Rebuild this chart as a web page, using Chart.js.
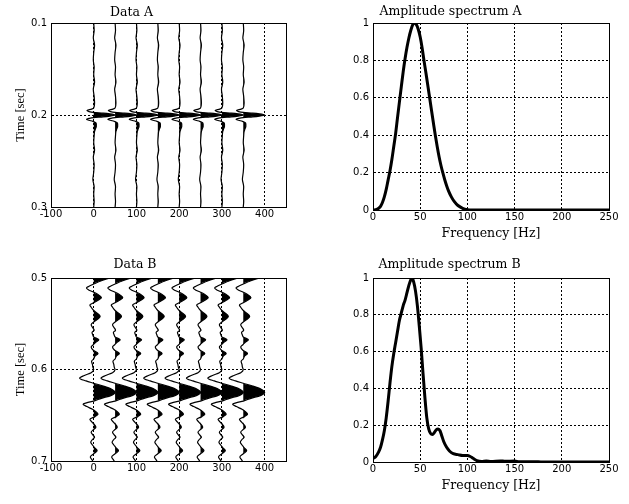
<!DOCTYPE html>
<html>
<head>
<meta charset="utf-8">
<script src="https://cdn.jsdelivr.net/npm/chart.js@4.4.1/dist/chart.umd.min.js"></script>
<style>
html, body { margin:0; padding:0; background:#ffffff; width:629px; height:504px; overflow:hidden; position:relative; }
canvas { position:absolute; }
</style>
</head>
<body>
<canvas id="dataA"></canvas>
<canvas id="specA"></canvas>
<canvas id="dataB"></canvas>
<canvas id="specB"></canvas>
<script>
// ---------------- data ----------------
const traceOffsets = [0, 50, 100, 150, 200, 250, 300, 350];

// Data A: one trace shape (time in s, amplitude in offset units)
const timeA = [0.100, 0.108, 0.116, 0.124, 0.132, 0.140, 0.148, 0.156, 0.164, 0.172,
               0.180, 0.187, 0.1923, 0.1936, 0.1952, 0.1963, 0.1972, 0.1980, 0.1988, 0.1995,
               0.2000, 0.2005, 0.2012, 0.2020, 0.2028, 0.2037, 0.2047, 0.2057, 0.2069, 0.2082,
               0.2097, 0.2124, 0.2151, 0.2179, 0.2224, 0.230, 0.238, 0.246, 0.254, 0.262,
               0.270, 0.278, 0.286, 0.294, 0.300];
const ampA  = [0, 1, -1, 2, 0, -1, 1, 0, 2, -1,
               1, 2, 0, -5, -16, -11, 0, 22, 38, 47,
               50, 47, 38, 22, 0, -11, -17, -11, -2, 4,
               6, 6, 4, 2, 1, 0, 2, -1, 1, 0,
               -2, 1, 0, 1, 0];

// Data B: one trace shape
const timeB = [0.500, 0.503, 0.5066, 0.509, 0.511, 0.513, 0.5155, 0.518, 0.5215, 0.5245,
               0.527, 0.5295, 0.532, 0.5355, 0.5385, 0.542, 0.5455, 0.548, 0.551, 0.5545,
               0.557, 0.5595, 0.5625, 0.5645, 0.5675, 0.5705, 0.5725, 0.5755, 0.579, 0.5825,
               0.5855, 0.5885, 0.591, 0.5945, 0.5975, 0.600, 0.6035, 0.6065, 0.6095, 0.6125,
               0.615, 0.618, 0.6215, 0.625, 0.6285, 0.6315, 0.6345, 0.6365, 0.638, 0.6405,
               0.6435, 0.646, 0.6488, 0.6515, 0.6545, 0.6575, 0.6605, 0.663, 0.6655, 0.6685,
               0.6715, 0.674, 0.6765, 0.6795, 0.6825, 0.6855, 0.6888, 0.692, 0.6955, 0.698,
               0.700];
const ampB  = [37, 18, 0, -11, -17, -12, 0, 10, 18, 9,
               0, -9, -6, 0, 8, 15, 8, 0, -6, -2,
               1, -4, -2, 0, 12, 4, 0, -6, -1, 10,
               3, 0, -5, -3, -2, 0, -6, -22, -33, -18,
               0, 22, 42, 50, 40, 18, 0, -17, -25, -16,
               -3, 5, 10, 3, -9, -4, 2, 5, 0, -6,
               -2, 2, -3, -7, -3, 2, 8, 0, -8, -5,
               -2];

// Amplitude spectrum A
const freqA = [0, 4, 8, 10, 12, 14, 16, 18, 20, 22, 24, 26, 28, 30, 32, 34, 36, 38, 40, 42,
               44, 46, 48, 50, 52, 54, 56, 58, 60, 62, 64, 66, 68, 70, 72, 74, 76, 78, 80, 83,
               86, 90, 95, 100, 105, 250];
const specA = [0, 0.003, 0.02, 0.04, 0.07, 0.11, 0.16, 0.21, 0.27, 0.34, 0.41, 0.495, 0.578, 0.66, 0.74, 0.81, 0.87, 0.92, 0.96, 0.99,
               1.0, 0.99, 0.965, 0.925, 0.868, 0.80, 0.735, 0.668, 0.60, 0.532, 0.465, 0.40, 0.34, 0.285, 0.238, 0.198, 0.162, 0.13, 0.102, 0.07,
               0.046, 0.024, 0.009, 0.002, 0, 0];

// Amplitude spectrum B
const freqB = [0, 3, 6, 8, 10, 12, 14, 16, 18, 20, 22, 24, 26, 28, 30, 32, 34, 36, 38, 40,
               41.5, 43, 45, 47, 49, 51, 53, 55, 57, 59, 61, 63, 65, 67, 69, 71, 73, 75, 78, 81,
               85, 90, 95, 100, 103, 106, 110, 115, 120, 125, 135, 140, 150, 155, 170, 180, 250];
const specB = [0.02, 0.03, 0.055, 0.08, 0.12, 0.17, 0.24, 0.33, 0.43, 0.52, 0.59, 0.65, 0.71, 0.77, 0.81, 0.85, 0.88, 0.92, 0.96, 0.99,
               1.0, 0.98, 0.93, 0.85, 0.74, 0.62, 0.48, 0.35, 0.24, 0.18, 0.155, 0.15, 0.16, 0.175, 0.18, 0.17, 0.14, 0.11, 0.08, 0.06,
               0.045, 0.04, 0.035, 0.035, 0.03, 0.02, 0.008, 0.003, 0.005, 0.003, 0.006, 0.004, 0.005, 0.002, 0.002, 0, 0];

// tick values
const xTicksData = [-100, 0, 100, 200, 300, 400];
const yTicksA = [0.1, 0.2, 0.3];
const yTicksB = [0.5, 0.6, 0.7];
const xTicksSpec = [0, 50, 100, 150, 200, 250];
const yTicksSpec = [0, 0.2, 0.4, 0.6, 0.8, 1];

// ---------------- styling helpers ----------------
const FONT_TICK = {family: 'DejaVu Sans', size: 10};
const FONT_TITLE = {family: 'DejaVu Serif', size: 12.5, weight: 'normal'};
const FONT_YLABEL = {family: 'Liberation Serif', size: 12.5, weight: 'normal'};

const framePlugin = {
  id: 'frame',
  afterDatasetsDraw(chart) {
    const {ctx, chartArea: a} = chart;
    const l = Math.round(a.left - 0.5) + 0.5, t = Math.round(a.top - 0.5) + 0.5;
    const r = Math.round(a.right - 0.5) + 0.5, b = Math.round(a.bottom - 0.5) + 0.5;
    ctx.save();
    ctx.strokeStyle = '#000';
    ctx.lineWidth = 1;
    ctx.setLineDash([]);
    ctx.strokeRect(l, t, r - l, b - t);
    ctx.restore();
  }
};

function linAxis(o) {
  return {
    type: 'linear', min: o.min, max: o.max, reverse: !!o.reverse,
    afterBuildTicks: s => { s.ticks = o.ticks.map(v => ({value: v})); },
    afterFit: s => {
      if (o.horizontal) { s.height = o.size; s.paddingLeft = 0; s.paddingRight = 0; }
      else { s.width = o.size; s.paddingTop = 0; s.paddingBottom = 0; }
    },
    grid: {color: '#000', lineWidth: 1, drawTicks: false},
    border: {display: true, color: '#000', width: 1, dash: [2, 2]},
    ticks: {color: '#000', font: FONT_TICK, padding: o.tickPad, autoSkip: false,
            maxRotation: 0, minRotation: 0, includeBounds: false,
            callback: v => String(Math.round(v * 1000) / 1000)},
    title: o.title ? {display: true, text: o.title, color: '#000', font: o.titleFont || FONT_TITLE, padding: o.titlePad}
                   : {display: false}
  };
}

function placeCanvas(id, p) {
  const cv = document.getElementById(id);
  cv.width = p.w; cv.height = p.h;
  cv.style.left = p.left + 'px'; cv.style.top = p.top + 'px';
  cv.style.width = p.w + 'px'; cv.style.height = p.h + 'px';
  return cv;
}

function baseOptions(p) {
  return {
    responsive: false, animation: false, devicePixelRatio: 1, events: [],
    layout: {padding: {left: 0, right: p.padR, top: 0, bottom: 0}},
    plugins: {
      legend: {display: false},
      tooltip: {enabled: false},
      title: {display: true, text: p.title, color: '#000', font: FONT_TITLE,
              padding: {top: p.tTop, bottom: p.tBottom}, align: 'center', fullSize: true}
    }
  };
}

function wiggleChart(id, p, times, amps, yMin, yMax, yTicks) {
  const cv = placeCanvas(id, p);
  const datasets = [];
  traceOffsets.forEach(off => {
    datasets.push({
      data: times.map((t, i) => ({x: off + Math.max(0, amps[i]), y: t})),
      borderWidth: 0, pointRadius: 0, cubicInterpolationMode: 'monotone',
      backgroundColor: '#000', fill: {value: off}
    });
    datasets.push({
      data: times.map((t, i) => ({x: off + amps[i], y: t})),
      borderColor: '#000', borderWidth: 1.2, pointRadius: 0, cubicInterpolationMode: 'monotone', fill: false
    });
  });
  const opts = baseOptions(p);
  opts.indexAxis = 'y';
  opts.scales = {
    x: linAxis({min: -100, max: 450, ticks: xTicksData, horizontal: true, size: p.xH, tickPad: 1}),
    y: linAxis({min: yMin, max: yMax, reverse: true, ticks: yTicks, size: p.yW, tickPad: 4,
                title: 'Time [sec]', titleFont: FONT_YLABEL, titlePad: {top: p.yTitlePad, bottom: 0}})
  };
  return new Chart(cv, {type: 'line', data: {datasets}, options: opts, plugins: [framePlugin]});
}

function spectrumChart(id, p, freqs, amps) {
  const cv = placeCanvas(id, p);
  const opts = baseOptions(p);
  opts.scales = {
    x: linAxis({min: 0, max: 250, ticks: xTicksSpec, horizontal: true, size: p.xH, tickPad: 1,
                title: 'Frequency [Hz]', titlePad: {top: 0, bottom: p.xTitlePad}}),
    y: linAxis({min: 0, max: 1, ticks: yTicksSpec, size: p.yW, tickPad: 4})
  };
  return new Chart(cv, {
    type: 'line',
    data: {datasets: [{
      data: freqs.map((f, i) => ({x: f, y: amps[i]})),
      borderColor: '#000', borderWidth: 3, pointRadius: 0,
      cubicInterpolationMode: 'monotone', fill: false
    }]},
    options: opts, plugins: [framePlugin]
  });
}

wiggleChart('dataA', {left: -23, top: 0, w: 319, h: 232, padR: 10, yW: 74, xH: 25,
                      title: 'Data A', tTop: 5, tBottom: 3, yTitlePad: 36.5},
            timeA, ampA, 0.1, 0.3, yTicksA);
spectrumChart('specA', {left: 292, top: 0, w: 327, h: 246, padR: 10, yW: 81, xH: 36,
                        title: 'Amplitude spectrum A', tTop: 4.5, tBottom: 3.5, xTitlePad: 4.6},
              freqA, specA);
wiggleChart('dataB', {left: -16, top: 252, w: 312, h: 234, padR: 10, yW: 67, xH: 25,
                      title: 'Data B', tTop: 5.5, tBottom: 5.5, yTitlePad: 29.5},
            timeB, ampB, 0.5, 0.7, yTicksB);
spectrumChart('specB', {left: 290, top: 252, w: 329, h: 246, padR: 10, yW: 83, xH: 36,
                        title: 'Amplitude spectrum B', tTop: 5.5, tBottom: 5.5, xTitlePad: 4.6},
              freqB, specB);
</script>
</body>
</html>
